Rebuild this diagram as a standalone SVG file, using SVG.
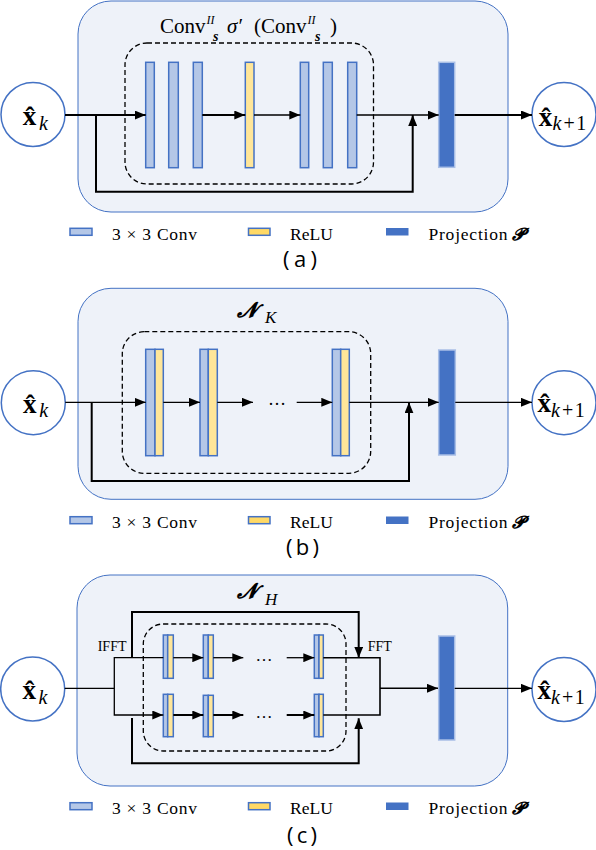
<svg xmlns="http://www.w3.org/2000/svg" width="596" height="850" viewBox="0 0 596 850">
<style>
.panel{fill:#eef2f9;stroke:#4472c4;stroke-width:1}
.dash{fill:none;stroke:#000;stroke-width:1.3;stroke-dasharray:5 3}
.conv{fill:#b4c7e7;stroke:#4472c4;stroke-width:1.5}
.relu{fill:#ffe699;stroke:#4472c4;stroke-width:1.5}
.proj{fill:#4472c4;stroke:#a9bfe6;stroke-width:1.5}
.io{fill:#fff;stroke:#4472c4;stroke-width:1.5}
.ln{fill:none;stroke:#000;stroke-width:1.3}
.tk{fill:none;stroke:#000;stroke-width:2}
.ar{marker-end:url(#arr)}
.serif{font-family:"Liberation Serif","DejaVu Serif",serif;fill:#000}
.xb{font-family:"Liberation Serif","DejaVu Serif",serif;font-weight:bold;font-size:27px}
.sub{font-family:"Liberation Serif","DejaVu Serif",serif;font-style:italic;font-size:20px}
.leg{font-family:"Liberation Serif","DejaVu Serif",serif;font-size:17.5px;fill:#000}
.cap{font-family:"Open Sans","Liberation Sans",sans-serif;font-size:22px;fill:#000}
.math{font-family:"DejaVu Serif","Noto Sans","Liberation Serif",serif;font-weight:bold;font-style:italic}
</style>
<defs>
<marker id="arr" markerUnits="userSpaceOnUse" markerWidth="11" markerHeight="9" refX="11" refY="4.5" orient="auto">
<path d="M0,0 L11,4.5 L0,9 z" fill="#000"/>
</marker>
</defs>

<!-- ===== Panel (a) ===== -->
<g id="panel-a">
<rect id="a-frame" class="panel" x="78" y="1" width="430" height="211" rx="33"/>
<rect id="a-block" class="dash" x="125" y="43" width="248.5" height="141" rx="22"/>
<text id="a-title" class="serif" font-size="21"><tspan x="160" y="33">Conv</tspan><tspan x="206.5" y="24" font-size="12" font-style="italic">II</tspan><tspan x="213" y="40.5" font-size="14" font-style="italic" font-weight="bold">s</tspan><tspan x="227" y="33" font-style="italic">σ′</tspan><tspan x="254" y="33">(Conv</tspan><tspan x="307.5" y="24" font-size="12" font-style="italic">II</tspan><tspan x="315" y="40.5" font-size="14" font-style="italic" font-weight="bold">s</tspan><tspan x="330" y="33">)</tspan></text>
<g id="a-in"><circle class="io" cx="33" cy="114.5" r="32"/><text class="xb" x="22.7" y="125">x̂</text><text class="sub" x="39" y="130">k</text></g>
<g id="a-conv1"><rect class="conv" x="145.7" y="62.3" width="8.6" height="105.4"/></g>
<g id="a-conv2"><rect class="conv" x="168.7" y="62.3" width="9.6" height="105.4"/></g>
<g id="a-conv3"><rect class="conv" x="193.3" y="62.3" width="9" height="105.4"/></g>
<g id="a-relu"><rect class="relu" x="245.3" y="62.3" width="8.7" height="105.4"/></g>
<g id="a-conv4"><rect class="conv" x="300.3" y="62.3" width="8.4" height="105.4"/></g>
<g id="a-conv5"><rect class="conv" x="323.3" y="62.3" width="9" height="105.4"/></g>
<g id="a-conv6"><rect class="conv" x="347.7" y="62.3" width="9" height="105.4"/></g>
<g id="a-proj"><rect class="proj" x="438.7" y="62.3" width="16" height="105"/></g>
<g id="a-out"><circle class="io" cx="564" cy="114.5" r="32"/><text class="xb" x="538.7" y="125.5">x̂</text><text class="sub" x="552.5" y="130">k<tspan font-style="normal" dx="2">+</tspan><tspan font-style="normal" dx="1.5">1</tspan></text></g>
<g id="a-legend">
<rect class="conv" x="70" y="228.3" width="22" height="7"/><text class="leg" x="112" y="240" textLength="85" lengthAdjust="spacing">3 × 3 Conv</text>
<rect class="relu" x="248.5" y="228.3" width="21.5" height="7" style="fill:#ffd966"/><text class="leg" x="290" y="240">ReLU</text>
<rect x="386" y="228" width="22.5" height="7.5" fill="#4472c4"/><text class="leg" x="428.5" y="240" textLength="79" lengthAdjust="spacing">Projection</text><text class="math" x="512" y="240" font-size="17">𝓟</text>
</g>
<text id="a-caption" class="cap" x="283" y="267" textLength="34" lengthAdjust="spacing">(a)</text>
</g>

<!-- ===== Panel (b) ===== -->
<g id="panel-b">
<rect id="b-frame" class="panel" x="78" y="288.3" width="430" height="211" rx="33"/>
<rect id="b-block" class="dash" x="122.3" y="331.7" width="248.4" height="141.6" rx="22"/>
<text id="b-title" class="math" x="236.7" y="317" font-size="21">𝓝<tspan font-family="Liberation Serif" font-weight="normal" font-style="italic" font-size="17" x="265" y="323">K</tspan></text>
<g id="b-in"><circle class="io" cx="33.3" cy="402.7" r="32"/><text class="xb" x="23" y="413">x̂</text><text class="sub" x="39.3" y="417">k</text></g>
<g id="b-block1"><rect class="conv" x="145.7" y="349.3" width="9.3" height="106.4"/><rect class="relu" x="155" y="349.3" width="8.3" height="106.4"/></g>
<g id="b-block2"><rect class="conv" x="200" y="349.3" width="8.3" height="106.4"/><rect class="relu" x="208.3" y="349.3" width="9" height="106.4"/></g>
<g id="b-blockK"><rect class="conv" x="332.3" y="349.3" width="8.4" height="106.4"/><rect class="relu" x="340.7" y="349.3" width="8.6" height="106.4"/></g>
<text id="b-dots" class="serif" x="268" y="405" font-size="18">…</text>
<g id="b-proj"><rect class="proj" x="438.7" y="350" width="16.6" height="105"/></g>
<g id="b-out"><circle class="io" cx="564" cy="402.7" r="32"/><text class="xb" x="537.5" y="412">x̂</text><text class="sub" x="551" y="417">k<tspan font-style="normal" dx="2">+</tspan><tspan font-style="normal" dx="1.5">1</tspan></text></g>
<g id="b-legend">
<rect class="conv" x="70" y="516.7" width="22" height="7"/><text class="leg" x="112" y="528.3" textLength="85" lengthAdjust="spacing">3 × 3 Conv</text>
<rect class="relu" x="248.5" y="516.7" width="21.5" height="7" style="fill:#ffd966"/><text class="leg" x="290" y="528.3">ReLU</text>
<rect x="386" y="516.5" width="22.5" height="7.5" fill="#4472c4"/><text class="leg" x="428.5" y="528.3" textLength="79" lengthAdjust="spacing">Projection</text><text class="math" x="512" y="528.3" font-size="17">𝓟</text>
</g>
<text id="b-caption" class="cap" x="286" y="555" textLength="33" lengthAdjust="spacing">(b)</text>
</g>

<!-- ===== Panel (c) ===== -->
<g id="panel-c">
<rect id="c-frame" class="panel" x="77" y="575" width="430.7" height="211" rx="33"/>
<rect id="c-block" class="dash" x="143.3" y="624" width="202.7" height="127" rx="20"/>
<text id="c-title" class="math" x="236.7" y="598" font-size="21">𝓝<tspan font-family="Liberation Serif" font-weight="normal" font-style="italic" font-size="17" x="265" y="605">H</tspan></text>
<g id="c-in"><circle class="io" cx="32.7" cy="689" r="32"/><text class="xb" x="22.5" y="698.5">x̂</text><text class="sub" x="38.5" y="703.5">k</text></g>
<text id="c-ifft" class="serif" x="97.7" y="650.5" font-size="14">IFFT</text>
<text id="c-fft" class="serif" x="367.7" y="650.5" font-size="14">FFT</text>
<g id="c-top1"><rect class="conv" x="163.3" y="635" width="4.4" height="43.3"/><rect class="relu" x="167.7" y="635" width="5.6" height="43.3"/></g>
<g id="c-top2"><rect class="conv" x="203.3" y="635" width="5" height="43.3"/><rect class="relu" x="208.3" y="635" width="5" height="43.3"/></g>
<g id="c-topH"><rect class="conv" x="314.3" y="635" width="4.7" height="43.3"/><rect class="relu" x="319" y="635" width="4.3" height="43.3"/></g>
<g id="c-bot1"><rect class="conv" x="163.3" y="694.3" width="4.4" height="42.4"/><rect class="relu" x="167.7" y="694.3" width="5.6" height="42.4"/></g>
<g id="c-bot2"><rect class="conv" x="203.3" y="695.3" width="5" height="41.4"/><rect class="relu" x="208.3" y="695.3" width="5" height="41.4"/></g>
<g id="c-botH"><rect class="conv" x="314.3" y="694.3" width="4.7" height="42.4"/><rect class="relu" x="319" y="694.3" width="4.3" height="42.4"/></g>
<text id="c-dots1" class="serif" x="255.5" y="661" font-size="17">…</text>
<text id="c-dots2" class="serif" x="255.5" y="718" font-size="17">…</text>
<g id="c-proj"><rect class="proj" x="438.7" y="636" width="16" height="104"/></g>
<g id="c-out"><circle class="io" cx="564" cy="689.5" r="32"/><text class="xb" x="537.5" y="699">x̂</text><text class="sub" x="551" y="704">k<tspan font-style="normal" dx="2">+</tspan><tspan font-style="normal" dx="1.5">1</tspan></text></g>
<g id="c-legend">
<rect class="conv" x="70" y="802.7" width="22" height="7"/><text class="leg" x="112" y="814" textLength="85" lengthAdjust="spacing">3 × 3 Conv</text>
<rect class="relu" x="248.5" y="802.7" width="21.5" height="7" style="fill:#ffd966"/><text class="leg" x="290" y="814">ReLU</text>
<rect x="386" y="802.5" width="22.5" height="7.5" fill="#4472c4"/><text class="leg" x="428.5" y="814" textLength="79" lengthAdjust="spacing">Projection</text><text class="math" x="512" y="814" font-size="17">𝓟</text>
</g>
<text id="c-caption" class="cap" x="287" y="843" textLength="30" lengthAdjust="spacing">(c)</text>
</g>

<!-- ===== Connectors ===== -->
<g id="connectors">
<!-- (a) -->
<line class="tk ar" x1="65" y1="115" x2="145.7" y2="115"/>
<polyline class="tk ar" points="96,115 96,191.7 412.7,191.7 412.7,115"/>
<line class="tk ar" x1="202.3" y1="115" x2="245.3" y2="115"/>
<line class="ln ar" x1="254" y1="115" x2="300.3" y2="115"/>
<line class="ln ar" x1="356.7" y1="115" x2="438.7" y2="115"/>
<line class="tk ar" x1="454.7" y1="115" x2="532" y2="115"/>
<!-- (b) -->
<line class="ln ar" x1="65.3" y1="402.3" x2="145.7" y2="402.3"/>
<polyline class="tk ar" points="91.7,402.3 91.7,481 409,481 409,402.3"/>
<line class="ln ar" x1="163.3" y1="402.3" x2="200" y2="402.3"/>
<line class="ln ar" x1="217.3" y1="402.3" x2="253" y2="402.3"/>
<line class="ln ar" x1="296.7" y1="402.3" x2="332.3" y2="402.3"/>
<line class="ln ar" x1="349.3" y1="402.3" x2="438.7" y2="402.3"/>
<line class="ln ar" x1="455.3" y1="402.3" x2="532" y2="402.3"/>
<!-- (c) -->
<line class="ln" x1="64.7" y1="688.3" x2="114.3" y2="688.3"/>
<polyline class="ln ar" points="163.3,657.7 114.3,657.7 114.3,715 163.3,715"/>
<polyline class="tk ar" points="132,657.7 132,612 358.7,612 358.7,657.7"/>
<polyline class="tk ar" points="132,718 132,763.3 358.7,763.3 358.7,718.3"/>
<line class="ln ar" x1="173.3" y1="657.7" x2="203.3" y2="657.7"/>
<line class="ln ar" x1="213.3" y1="657.7" x2="243.3" y2="657.7"/>
<line class="ln ar" x1="286.7" y1="657.7" x2="314.3" y2="657.7"/>
<line class="tk ar" x1="173.3" y1="715" x2="203.3" y2="715"/>
<line class="tk ar" x1="213.3" y1="715" x2="243.3" y2="715"/>
<line class="tk ar" x1="286.7" y1="715" x2="314.3" y2="715"/>
<polyline class="ln" points="323.3,657.7 380,657.7 380,715 323.3,715" style="stroke-width:1.6"/>
<line class="ln ar" x1="380" y1="688.3" x2="438" y2="688.3" style="stroke-width:1.6"/>
<line class="ln ar" x1="454.7" y1="688.3" x2="532" y2="688.3"/>
</g>
</svg>
